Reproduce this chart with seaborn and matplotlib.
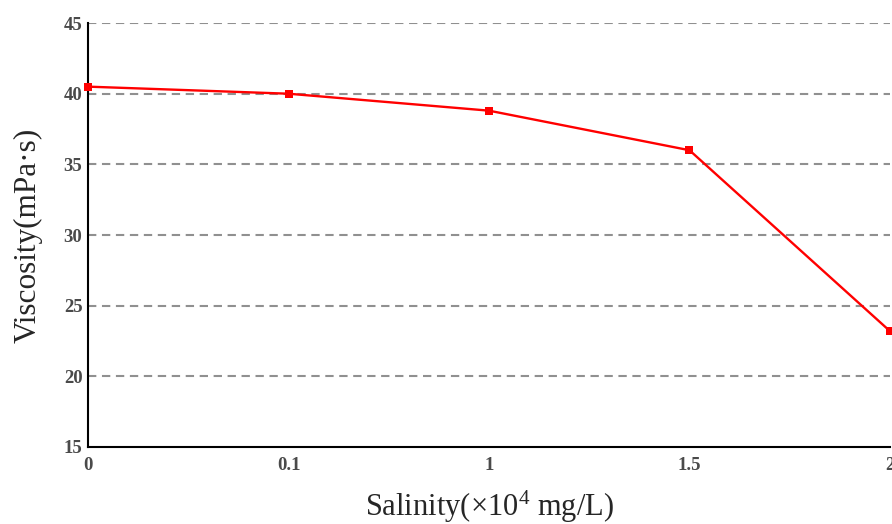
import matplotlib
matplotlib.use("Agg")
import matplotlib.pyplot as plt
import seaborn as sns
import pandas as pd

salinity_labels = ["0", "0.1", "1", "1.5", "2"]
viscosity = [40.5, 40.0, 38.8, 36.0, 23.2]
y_ticks = [15, 20, 25, 30, 35, 40, 45]

sns.set_theme(style="white")
plt.rcParams['font.family'] = ['Liberation Serif', 'DejaVu Serif']
plt.rcParams['mathtext.fontset'] = 'custom'
plt.rcParams['mathtext.rm'] = 'Liberation Serif'

df = pd.DataFrame({"pos": list(range(len(salinity_labels))), "visc": viscosity})

fig = plt.figure(figsize=(8.92, 5.24), dpi=100)
ax = fig.add_axes([0.0987, 0.147, 0.899, 0.809])

for yv in y_ticks[1:]:
    ax.axhline(yv, color="#909090", lw=1.5, ls=(0, (4, 2.7)), zorder=1)

sns.lineplot(data=df, x="pos", y="visc", ax=ax, color="#ff0000", lw=1.7,
             marker="s", markersize=6, markeredgewidth=0, zorder=3, clip_on=False)

ax.set_xlim(0, len(salinity_labels) - 1)
ax.set_ylim(15, 45)
ax.set_xticks(range(len(salinity_labels)))
ax.set_xticklabels(salinity_labels)
ax.set_yticks(y_ticks)
ax.tick_params(direction="in", length=4, width=1.5, colors="black", labelsize=13.5)
ax.tick_params(axis="y", pad=4)
ax.tick_params(axis="x", pad=7)
for lab in ax.get_xticklabels() + ax.get_yticklabels():
    lab.set_color("#4a4a4a")
    lab.set_fontweight("bold")

for s in ["top", "right"]:
    ax.spines[s].set_visible(False)
for s in ["left", "bottom"]:
    ax.spines[s].set_color("black")
    ax.spines[s].set_linewidth(1.5)

ax.set_xlabel("Salinity(×10$\\mathrm{^{4}}$ mg/L)", fontsize=22, labelpad=11)
ax.set_ylabel("Viscosity(mPa·s)", fontsize=22.5, labelpad=15)

fig.savefig("out.png", dpi=100)
